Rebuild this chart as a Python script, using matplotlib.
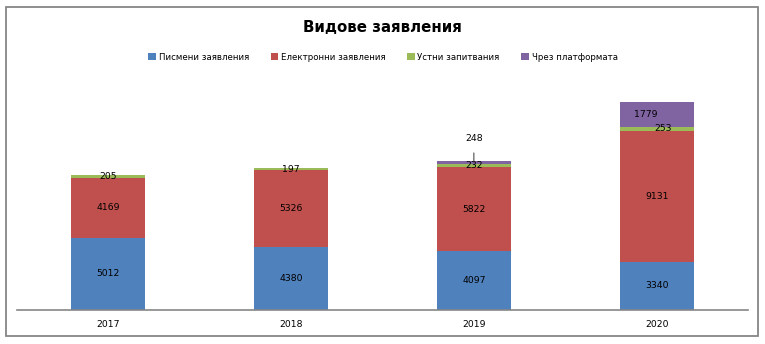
import matplotlib.pyplot as plt
import numpy as np

years = ['2017', '2018', '2019', '2020']
pismeni = [5012, 4380, 4097, 3340]
elektronni = [4169, 5326, 5822, 9131]
ustni = [205, 197, 232, 253]
platforma = [0, 0, 248, 1779]

series = [
    ('Писмени заявления', pismeni, '#4F81BD'),
    ('Електронни заявления', elektronni, '#C0504D'),
    ('Устни запитвания', ustni, '#9BBB59'),
    ('Чрез платформата', platforma, '#8064A2'),
]

plt.rcParams['font.family'] = ['DejaVu Sans']

fig = plt.figure(figsize=(7.65, 3.44), dpi=100)
ax = fig.add_axes([17 / 765, 1 - 310 / 344, 731 / 765, 230 / 344])

x = np.arange(len(years))
bottom = np.zeros(len(years))
handles = []
for si, (name, vals, color) in enumerate(series):
    vals = np.array(vals, dtype=float)
    bars = ax.bar(x, vals, 0.405, bottom=bottom, color=color, label=name)
    handles.append(bars)
    for i, v in enumerate(vals):
        if v <= 0:
            continue
        cy = bottom[i] + v / 2
        dx, dy = 0, 0
        arrow = None
        if si == 3 and i == 2:
            # small segment: label lifted above with a leader line
            dx, dy = 0, 17
            arrow = dict(arrowstyle='-', color='#333333', lw=0.7, shrinkA=5, shrinkB=0)
        elif si == 3 and i == 3:
            dx = -8
        elif si == 2 and i == 3:
            dx = 5
        ax.annotate(f'{int(v)}', (i, cy), xytext=(dx, dy), textcoords='offset points',
                    ha='center', va='center', fontsize=6.7, color='black', arrowprops=arrow)
    bottom += vals

ax.set_xlim(-0.5, 3.5)
ax.set_ylim(0, 16000)
ax.set_xticks(x)
ax.set_xticklabels(years, fontsize=6.7)
ax.tick_params(axis='x', length=0, pad=7)
ax.set_yticks([])
for side in ['top', 'right', 'left']:
    ax.spines[side].set_visible(False)
ax.spines['bottom'].set_color('#868686')
ax.spines['bottom'].set_linewidth(1.2)

fig.text(0.5, 1 - 28 / 344, 'Видове заявления', ha='center', va='center',
         fontsize=10.8, fontweight='bold')

fig.legend(handles=handles, loc='center', bbox_to_anchor=(383 / 765, 1 - 57 / 344),
           ncol=4, frameon=False, fontsize=6.2, handlelength=0.9, handleheight=0.9,
           handletextpad=0.3, columnspacing=2.5)

# outer chart border
fig.patches.append(plt.Rectangle((6 / 765, 1 - 336 / 344), 752 / 765, 329 / 344,
                                 transform=fig.transFigure, fill=False,
                                 edgecolor='#868686', lw=1.3))

fig.savefig('out.png', dpi=100)
